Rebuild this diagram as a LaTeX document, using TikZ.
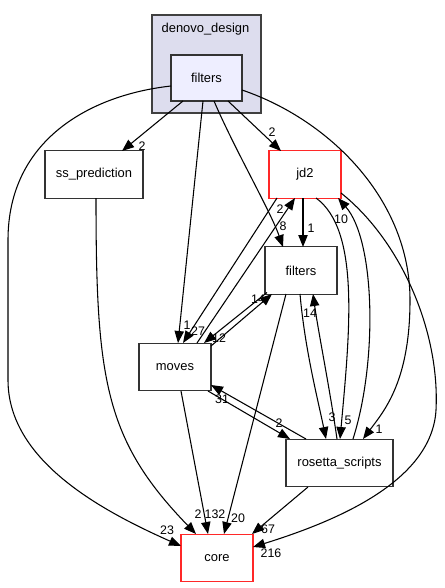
\documentclass[tikz,border=0pt]{standalone}
\usepackage{fontspec}
\setmainfont{Liberation Sans}
\usetikzlibrary{arrows.meta,calc}
\definecolor{clfill}{RGB}{221,221,238}
\definecolor{infill}{RGB}{238,238,255}
\definecolor{hlred}{RGB}{255,40,40}
\tikzset{d/.style={draw=black!80,fill=white,minimum width=54pt,minimum height=35.5pt,inner sep=0pt,line width=.85pt,font=\fontsize{9.7}{11}\selectfont},
 hl/.style={d,draw=hlred},
 cl/.style={draw=black!75,fill=clfill,line width=.85pt,minimum width=81.75pt,minimum height=73.5pt,inner sep=0pt},
 dep/.style={-{Triangle[length=9pt,width=7pt]},line width=.8pt},
 lbl/.style={font=\fontsize{9.3}{10}\selectfont,inner sep=0pt}}
\begin{document}
\begin{tikzpicture}[x=.75pt,y=-.75pt]
\useasboundingbox(0,0)rectangle(444,588);
\node[cl](dd) at(206.5,64){};
\node[font=\fontsize{9.7}{11}\selectfont](ddl) at(205.5,29){denovo\_design};
\node[d,fill=infill,minimum width=53.25pt,minimum height=34.5pt](fin) at(206.5,78){filters};
\node[d,minimum width=73.5pt](ssp) at(94,174.5){ss\_prediction};
\node[hl](jd2) at(305,174.5){jd2};
\node[d](fil) at(301,270.5){filters};
\node[d](mov) at(175,367){moves};
\node[d,minimum width=80.25pt](ros) at(339.5,463){rosetta\_scripts};
\node[hl](core) at(217,558){core};
\draw[dep]($(fin)+(-23.5,23)$)--($(ssp)+(28,-23.5)$) node[lbl] at(142,146){2};
\draw[dep]($(fin)+(-35.5,8)$) .. controls (90,95) and (8,140) .. (8,240) -- (8,380) .. controls (8,460) and (100,510) .. ($(core)+(-36,-12)$) node[lbl] at(167,530){23};
\draw[dep]($(ssp)+(2,23.5)$) .. controls (96,380) and (105,440) .. ($(core)+(-21,-24)$) node[lbl] at(198,514){2};
\draw[dep]($(fin)+(-3.5,23)$)--($(mov)+(3,-24)$) node[lbl] at(187,325){1};
\draw[dep]($(jd2)+(-28,23.5)$)--($(mov)+(8,-24)$) node[lbl] at(198,331){27};
\draw[dep]($(mov)+(22,-24)$)--($(jd2)+(-10,23.5)$) node[lbl] at(280,209){2};
\draw[dep]($(fil)+(-34,22)$)--($(mov)+(29,-24)$) node[lbl] at(219,338){12};
\draw[dep]($(mov)+(36,-21)$)--($(fil)+(-29,23.5)$) node[lbl] at(258,299){14};
\draw[dep]($(fin)+(7.5,23)$) .. controls (235,150) and (270,210) .. ($(fil)+(-18,-23.5)$) node[lbl] at(283,226){8};
\draw[dep]($(fin)+(21.5,23)$)--($(jd2)+(-24,-23.5)$) node[lbl] at(272,132){2};
\draw[dep]($(fin)+(35.5,12)$) .. controls (330,120) and (410,200) .. (410,300) .. controls (410,380) and (385,410) .. ($(ros)+(23.5,-24)$) node[lbl] at(379,429){1};
\draw[dep]($(jd2)+(-2,23.5)$)--($(fil)+(2,-23.5)$) node[lbl] at(311,228){1};
\draw[dep]($(jd2)+(11,23.5)$) .. controls (360,230) and (350,330) .. ($(ros)+(.5,-24)$) node[lbl] at(348,420){5};
\draw[dep]($(ros)+(13.5,-24)$) .. controls (378,360) and (375,240) .. ($(jd2)+(33,23.5)$) node[lbl] at(341,219){10};
\draw[dep]($(jd2)+(36,18.5)$) .. controls (400,240) and (440,330) .. (436,410) .. controls (432,480) and (340,520) .. ($(core)+(36,-11)$) node[lbl] at(271,553){216};
\draw[dep]($(fil)+(-1,23.5)$) .. controls (305,350) and (318,400) .. ($(ros)+(-13.5,-24)$) node[lbl] at(332,417){3};
\draw[dep]($(ros)+(-2.5,-24)$) .. controls (330,390) and (318,330) .. ($(fil)+(12,23.5)$) node[lbl] at(310,313){14};
\draw[dep]($(fil)+(-15,23.5)$)--($(core)+(7,-24)$) node[lbl] at(238,518){20};
\draw[dep]($(mov)+(6,24)$)--($(core)+(-9,-24)$) node[lbl] at(215,514){132};
\draw[dep]($(ros)+(-31.5,24)$)--($(core)+(35,-24)$) node[lbl] at(268,529){67};
\draw[dep]($(mov)+(33,24)$)--($(ros)+(-49.5,-24)$) node[lbl] at(279,423){2};
\draw[dep]($(ros)+(-33.5,-24)$)--($(mov)+(36,18)$) node[lbl] at(222,399){31};
\end{tikzpicture}
\end{document}
